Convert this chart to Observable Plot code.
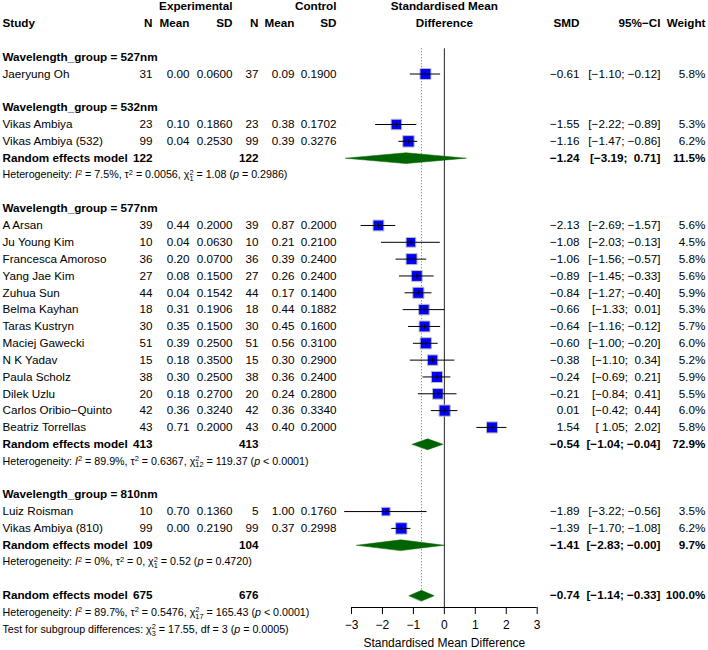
<!DOCTYPE html>
<html>
<head>
<meta charset="utf-8">
<script src="https://cdn.jsdelivr.net/npm/d3@7"></script>
<script src="https://cdn.jsdelivr.net/npm/@observablehq/plot@0.6"></script>
<style>
  body { margin: 0; background: #fff; }
  svg text { white-space: pre; }
</style>
</head>
<body>
<div id="chart"></div>
<script>
// ---- Study-level data ----
const groupOrder = ["527nm", "532nm", "577nm", "810nm"];
const studyGroup = ["527nm", "532nm", "532nm",
  "577nm", "577nm", "577nm", "577nm", "577nm", "577nm", "577nm", "577nm", "577nm", "577nm", "577nm", "577nm", "577nm",
  "810nm", "810nm"];
const studyNames = ["Jaeryung Oh", "Vikas Ambiya", "Vikas Ambiya (532)",
  "A Arsan", "Ju Young Kim", "Francesca Amoroso", "Yang Jae Kim", "Zuhua Sun", "Belma Kayhan", "Taras Kustryn",
  "Maciej Gawecki", "N K Yadav", "Paula Scholz", "Dilek Uzlu", "Carlos Oribio\u2212Quinto", "Beatriz Torrellas",
  "Luiz Roisman", "Vikas Ambiya (810)"];
const expN     = [31, 23, 99, 39, 10, 36, 27, 44, 18, 30, 51, 15, 38, 20, 42, 43, 10, 99];
const expMean  = [0.00, 0.10, 0.04, 0.44, 0.04, 0.20, 0.08, 0.04, 0.31, 0.35, 0.39, 0.18, 0.30, 0.18, 0.36, 0.71, 0.70, 0.00];
const expSD    = [0.0600, 0.1860, 0.2530, 0.2000, 0.0630, 0.0700, 0.1500, 0.1542, 0.1906, 0.1500, 0.2500, 0.3500, 0.2500, 0.2700, 0.3240, 0.2000, 0.1360, 0.2190];
const ctrlN    = [37, 23, 99, 39, 10, 36, 27, 44, 18, 30, 51, 15, 38, 20, 42, 43, 5, 99];
const ctrlMean = [0.09, 0.38, 0.39, 0.87, 0.21, 0.39, 0.26, 0.17, 0.44, 0.45, 0.56, 0.30, 0.36, 0.24, 0.36, 0.40, 1.00, 0.37];
const ctrlSD   = [0.1900, 0.1702, 0.3276, 0.2000, 0.2100, 0.2400, 0.2400, 0.1400, 0.1882, 0.1600, 0.3100, 0.2900, 0.2400, 0.2800, 0.3340, 0.2000, 0.1760, 0.2998];
const smd      = [-0.61, -1.55, -1.16, -2.13, -1.08, -1.06, -0.89, -0.84, -0.66, -0.64, -0.60, -0.38, -0.24, -0.21, 0.01, 1.54, -1.89, -1.39];
const ciLow    = [-1.10, -2.22, -1.47, -2.69, -2.03, -1.56, -1.45, -1.27, -1.33, -1.16, -1.00, -1.10, -0.69, -0.84, -0.42, 1.05, -3.22, -1.70];
const ciHigh   = [-0.12, -0.89, -0.86, -1.57, -0.13, -0.57, -0.33, -0.40, 0.01, -0.12, -0.20, 0.34, 0.21, 0.41, 0.44, 2.02, -0.56, -1.08];
const weight   = [5.8, 5.3, 6.2, 5.6, 4.5, 5.8, 5.6, 5.9, 5.3, 5.7, 6.0, 5.2, 5.9, 5.5, 6.0, 5.8, 3.5, 6.2];

// ---- Pooled (random effects) estimates ----
const pooledGroup  = ["532nm", "577nm", "810nm", "overall"];
const pooledExpN   = [122, 413, 109, 675];
const pooledCtrlN  = [122, 413, 104, 676];
const pooledSMD    = [-1.24, -0.54, -1.41, -0.74];
const pooledLow    = [-3.19, -1.04, -2.83, -1.14];
const pooledHigh   = [0.71, -0.04, -0.00, -0.33];
const pooledWeight = [11.5, 72.9, 9.7, 100.0];

// ---- Heterogeneity statistics ----
const hetI2   = ["7.5%", "89.9%", "0%", "89.7%"];
const hetTau2 = ["0.0056", "0.6367", "0", "0.5476"];
const hetDf   = ["1", "12", "1", "17"];
const hetQ    = ["1.08", "119.37", "0.52", "165.43"];
const hetP    = ["= 0.2986", "< 0.0001", "= 0.4720", "< 0.0001"];
const subgroupQ = "17.55", subgroupDf = "3", subgroupP = "= 0.0005";

// ---- Column headers and axis ticks ----
const columnLabels = [["study", "Study"], ["expN", "N"], ["expMean", "Mean"], ["expSD", "SD"],
  ["ctrlN", "N"], ["ctrlMean", "Mean"], ["ctrlSD", "SD"], ["smd", "SMD"], ["ci", "95%\u2212CI"], ["weight", "Weight"]];
const xTicks = [-3, -2, -1, 0, 1, 2, 3];

// ---- Formatting helpers ----
const neg = v => v < 0 || Object.is(v, -0);
const num = (v, d) => (neg(v) ? "\u2212" : "") + Math.abs(v).toFixed(d);
const padNum = v => (neg(v) ? "" : " ") + num(v, 2);
const ciText = (lo, hi) => `[${padNum(lo)}; ${padNum(hi)}]`;

// ---- Row layout ----
const studyRows = [], headerRows = [], pooledRows = [], hetRows = [];
let r = 3;
const pooledRow = (p, row) => ({
  row, label: "Random effects model", nE: String(pooledExpN[p]), nC: String(pooledCtrlN[p]),
  smd: pooledSMD[p], lo: pooledLow[p], hi: pooledHigh[p],
  smdT: num(pooledSMD[p], 2), ciT: ciText(pooledLow[p], pooledHigh[p]), wT: pooledWeight[p].toFixed(1) + "%"
});
const hetRow = (p, row) => ({
  row,
  parts: [["Heterogeneity: ", ""], ["I", "i"], ["2", "sup"], [` = ${hetI2[p]}, `, ""], ["\u03c4", ""], ["2", "sup"],
    [` = ${hetTau2[p]}, `, ""], ["\u03c7", ""], ["2", "sup"], [hetDf[p], "sub"], [` = ${hetQ[p]} (`, ""], ["p", "i"], [` ${hetP[p]})`, ""]]
});
for (const g of groupOrder) {
  headerRows.push({row: r++, label: `Wavelength_group = ${g}`});
  studyNames.forEach((name, i) => {
    if (studyGroup[i] !== g) return;
    studyRows.push({
      row: r++, label: name, smd: smd[i], lo: ciLow[i], hi: ciHigh[i], w: weight[i],
      nE: String(expN[i]), mE: expMean[i].toFixed(2), sdE: expSD[i].toFixed(4),
      nC: String(ctrlN[i]), mC: ctrlMean[i].toFixed(2), sdC: ctrlSD[i].toFixed(4),
      smdT: num(smd[i], 2), ciT: ciText(ciLow[i], ciHigh[i]), wT: weight[i].toFixed(1) + "%"
    });
  });
  const p = pooledGroup.indexOf(g);
  if (p >= 0) {
    pooledRows.push(pooledRow(p, r++));
    hetRows.push(hetRow(p, r++));
  }
  r++;
}
const overall = pooledGroup.indexOf("overall");
pooledRows.push(pooledRow(overall, r++));
hetRows.push(hetRow(overall, r++));
hetRows.push({row: r++, parts: [["Test for subgroup differences: ", ""], ["\u03c7", ""], ["2", "sup"], [subgroupDf, "sub"],
  [` = ${subgroupQ}, df = ${subgroupDf} (`, ""], ["p", "i"], [` ${subgroupP})`, ""]]});
hetRows.forEach(d => d.text = d.parts.map(p => p[0]).join(""));

const overallRow = pooledRows[pooledRows.length - 1].row;
const overallSMD = pooledSMD[overall];
const topRow = 2.5;       // plot region starts just below the column headers
const axisRow = 35.7;     // x axis baseline
const DH = 0.32;          // half-height of pooled diamonds (rows)
const FS = 11.7;          // table font size
const FS_SMALL = 10.7;    // statistics font size

// text column anchors (px from left)
const COL = {study: 2, expN: 152, expMean: 189, expSD: 232, ctrlN: 258, ctrlMean: 294, ctrlSD: 336, smd: 579, ci: 660, weight: 705};
const cell = (data, text, col, o = {}) => Plot.text(data, {
  y: "row", text, frameAnchor: "left", dx: COL[col],
  textAnchor: col === "study" ? "start" : "end", fontSize: FS, ...o
});

const diamondPts = pooledRows.flatMap((d, i) => [
  {id: i, x: d.lo, y: d.row}, {id: i, x: d.smd, y: d.row - DH},
  {id: i, x: d.hi, y: d.row}, {id: i, x: d.smd, y: d.row + DH}
]);

const vbar = {draw(ctx, size) { const h = Math.sqrt(size) / 2; ctx.moveTo(0, -h); ctx.lineTo(0, h); }};
const bold = {fontWeight: "bold"};

const chart = Plot.plot({
  width: 708,
  height: 650,
  marginTop: 0, marginRight: 0, marginLeft: 0, marginBottom: 43,
  style: {fontFamily: "'Liberation Sans', Arial, sans-serif", fontSize: "12px", background: "white", color: "black"},
  x: {domain: [-3, 3], range: [351, 536.7]},
  y: {domain: [0, axisRow], range: [6.2, 607], axis: null},
  r: {type: "sqrt", domain: [0, 6.2], range: [0, 6.43]},
  marks: [
    // reference lines
    Plot.ruleX([overallSMD], {y1: topRow, y2: overallRow, stroke: "#666", strokeDasharray: "1,2"}),
    Plot.ruleX([0], {y1: topRow, y2: axisRow, stroke: "#222"}),
    // x axis
    Plot.ruleY([axisRow], {x1: -3, x2: 3, stroke: "black"}),
    Plot.axisX({ticks: xTicks, tickSize: 7, tickPadding: 6, label: null, fontSize: 12,
      tickFormat: d => (d < 0 ? "\u2212" : "") + Math.abs(d)}),
    Plot.text([{x: 0, t: "Standardised Mean Difference"}], {x: "x", text: "t", frameAnchor: "bottom", dy: 39, fontSize: 12}),
    // study squares, confidence intervals, estimate ticks
    Plot.dot(studyRows, {x: "smd", y: "row", r: "w", symbol: "square", fill: "#0000ff", stroke: "#bebebe", strokeWidth: 1}),
    Plot.ruleY(studyRows, {y: "row", x1: "lo", x2: "hi", stroke: "black", strokeWidth: 1}),
    Plot.dot(studyRows, {x: "smd", y: "row", r: 2.6, symbol: vbar, stroke: "black", strokeWidth: 1}),
    // pooled diamonds
    Plot.line(diamondPts, {x: "x", y: "y", z: "id", curve: "linear-closed", fill: "#006400", stroke: "#006400", strokeWidth: 0.5}),
    // header
    Plot.text([{row: 0, t: "Experimental"}], {y: "row", text: "t", frameAnchor: "left", dx: COL.expSD, textAnchor: "end", fontSize: FS, ...bold}),
    Plot.text([{row: 0, t: "Control"}], {y: "row", text: "t", frameAnchor: "left", dx: COL.ctrlSD, textAnchor: "end", fontSize: FS, ...bold}),
    Plot.text([{row: 0, x: 0, t: "Standardised Mean"}, {row: 1, x: 0, t: "Difference"}], {x: "x", y: "row", text: "t", fontSize: FS, ...bold}),
    ...columnLabels.map(([c, t]) => cell([{row: 1, t}], "t", c, bold)),
    // subgroup headings
    cell(headerRows, "label", "study", bold),
    // study rows
    cell(studyRows, "label", "study"),
    cell(studyRows, "nE", "expN"),
    cell(studyRows, "mE", "expMean"),
    cell(studyRows, "sdE", "expSD"),
    cell(studyRows, "nC", "ctrlN"),
    cell(studyRows, "mC", "ctrlMean"),
    cell(studyRows, "sdC", "ctrlSD"),
    cell(studyRows, "smdT", "smd"),
    cell(studyRows, "ciT", "ci"),
    cell(studyRows, "wT", "weight"),
    // pooled rows
    cell(pooledRows, "label", "study", bold),
    cell(pooledRows, "nE", "expN", bold),
    cell(pooledRows, "nC", "ctrlN", bold),
    cell(pooledRows, "smdT", "smd", bold),
    cell(pooledRows, "ciT", "ci", bold),
    cell(pooledRows, "wT", "weight", bold),
    // heterogeneity statistics
    cell(hetRows, "text", "study", {fontSize: FS_SMALL})
  ]
});

document.getElementById("chart").append(chart);

// typeset the statistic lines with italics and stacked super/subscripts
const richMap = new Map(hetRows.map(d => [d.text, d.parts]));
d3.select(chart).selectAll("text").each(function () {
  const parts = richMap.get(this.textContent);
  if (!parts) return;
  const t = d3.select(this).text(null);
  let off = 0, supW = 0;
  for (const [s, k] of parts) {
    const ts = t.append("tspan").text(s);
    let target = 0;
    if (k === "sup") { target = -3.6; ts.attr("font-size", 7.4); }
    else if (k === "sub") { target = 2.8; ts.attr("font-size", 7.4).attr("dx", -supW); }
    else if (k === "i") ts.attr("font-style", "italic");
    if (target !== off) ts.attr("dy", target - off);
    off = target;
    if (k === "sup") supW = ts.node().getComputedTextLength();
  }
});
</script>
</body>
</html>
